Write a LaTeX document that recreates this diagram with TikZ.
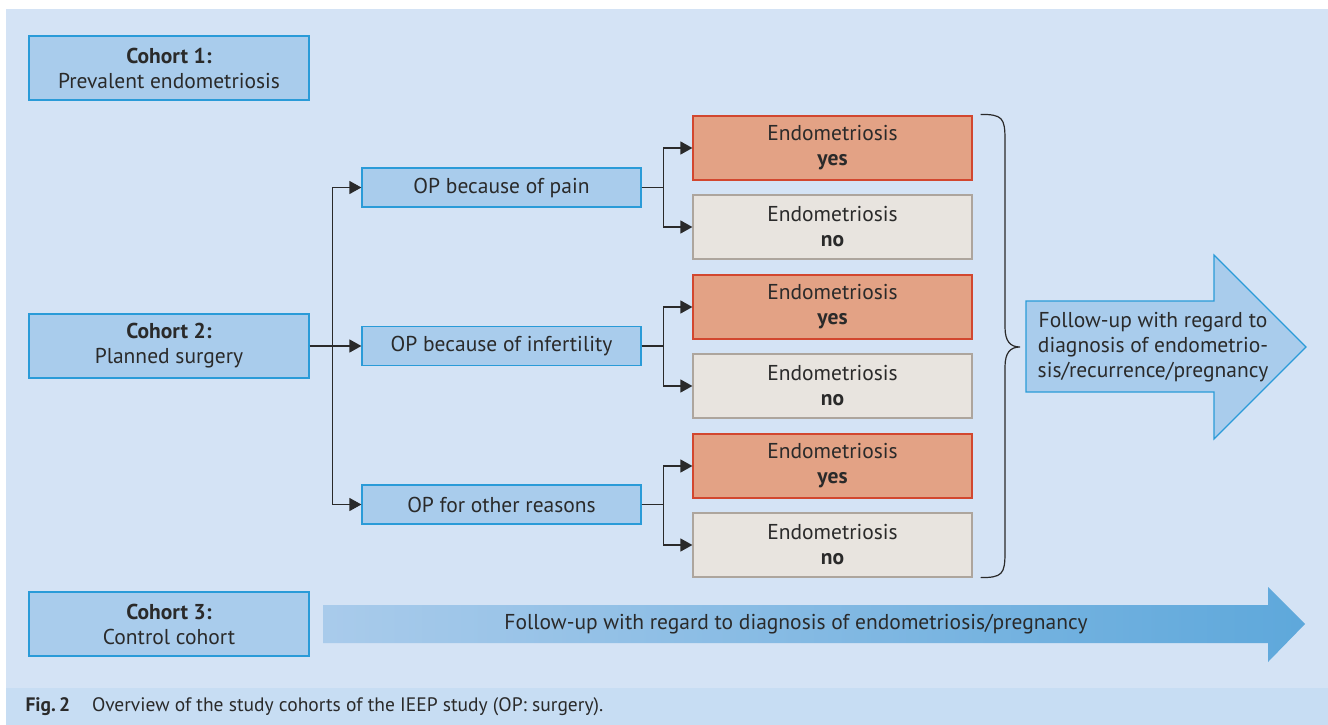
\documentclass[tikz,border=0pt]{standalone}
\usepackage{fontspec}
\setmainfont{PT Sans}
\usepackage{xcolor}
\usetikzlibrary{positioning,calc,arrows.meta}

\definecolor{panelblue}{HTML}{D4E3F5}
\definecolor{captionblue}{HTML}{C7DDF3}
\definecolor{boxblue}{HTML}{A9CCEC}
\definecolor{edgeblue}{HTML}{2A9BD8}
\definecolor{yesfill}{HTML}{E3A285}
\definecolor{yesedge}{HTML}{D2472F}
\definecolor{nofill}{HTML}{E8E4DF}
\definecolor{noedge}{HTML}{ADA59D}
\definecolor{inkgrey}{HTML}{2A2A2A}
\definecolor{arrowlight}{HTML}{A9CBEB}
\definecolor{arrowdark}{HTML}{5EA8DB}

\begin{document}
\begin{tikzpicture}[
    x=1pt, y=-1pt,
    font=\fontsize{21.5}{25}\selectfont, text=inkgrey,
    cohortbox/.style={rectangle, draw=edgeblue, fill=boxblue, line width=1.2pt,
        minimum width=280pt, minimum height=64pt, inner sep=0pt, align=center},
    opbox/.style={cohortbox, minimum width=279pt, minimum height=39pt},
    yesbox/.style={rectangle, draw=yesedge, fill=yesfill, line width=1.2pt,
        minimum width=279pt, minimum height=64pt, inner sep=0pt, align=center},
    nobox/.style={yesbox, draw=noedge, fill=nofill},
    link/.style={draw=inkgrey, line width=1.3pt, -{Triangle[length=12pt,width=13pt]}},
    bracket/.style={draw=inkgrey, line width=1.2pt}
]
    \useasboundingbox (0,0) rectangle (1328,725);
    \fill[panelblue] (6,9) rectangle (1328,688);
    \fill[captionblue] (6,688) rectangle (1328,725);

    % cohorts
    \node[cohortbox] (cohortA) at (169,68) {\textbf{Cohort 1:}\\Prevalent endometriosis};
    \node[cohortbox] (cohortB) at (169,346) {\textbf{Cohort 2:}\\Planned surgery};
    \node[cohortbox] (cohortC) at (169,624) {\textbf{Cohort 3:}\\Control cohort};

    % reasons for surgery
    \node[opbox] (opPain) at (501.5,187.5) {OP because of pain};
    \node[opbox] (opInfert) at (501.5,346) {OP because of infertility};
    \node[opbox] (opOther) at (501.5,504.5) {OP for other reasons};

    % findings
    \node[yesbox] (painYes) at (832.5,148) {Endometriosis\\\textbf{yes}};
    \node[nobox] (painNo) at (832.5,227) {Endometriosis\\\textbf{no}};
    \node[yesbox] (infertYes) at (832.5,307) {Endometriosis\\\textbf{yes}};
    \node[nobox] (infertNo) at (832.5,386) {Endometriosis\\\textbf{no}};
    \node[yesbox] (otherYes) at (832.5,466) {Endometriosis\\\textbf{yes}};
    \node[nobox] (otherNo) at (832.5,545) {Endometriosis\\\textbf{no}};

    \coordinate (split) at ($(cohortB.east)+(23,0)$);
    \draw[link] (cohortB.east) -- (opInfert.west);
    \draw[link] (split) |- (opPain.west);
    \draw[link] (split) |- (opOther.west);

    \foreach \op/\yes/\no in {opPain/painYes/painNo, opInfert/infertYes/infertNo, opOther/otherYes/otherNo} {
        \draw[link] (\op.east) -- ++(22,0) |- (\yes.west);
        \draw[link] (\op.east) -- ++(22,0) |- (\no.west);
    }

    % brace
    \coordinate (braceTop) at ($(painYes.north east)+(8,-1)$);
    \coordinate (braceBot) at ($(otherNo.south east)+(8,0)$);
    \coordinate (braceTip) at (1020,347);
    \draw[bracket] (braceTop) .. controls ++(22,0) and (1005,118) .. (1005,140)
        -- (1005,327) .. controls (1005,341) and (1010,347) .. (braceTip)
        .. controls (1010,347) and (1005,353) .. (1005,367)
        -- (1005,552) .. controls (1005,574) and ($(braceBot)+(22,0)$) .. (braceBot);

    % follow-up arrows
    \draw[fill=boxblue, draw=edgeblue, line width=1.2pt]
        (1026,301) -- (1214,301) -- (1214,255) -- (1306,347) -- (1214,439)
        -- (1214,392) -- (1026,392) -- cycle;
    \node[align=center] (followUp) at (1153,347)
        {Follow-up with regard to\\diagnosis of endometrio-\\sis/recurrence/pregnancy};

    \shade[left color=arrowlight, right color=arrowdark]
        (323,605) -- (1268,605) -- (1268,587) -- (1305,624) -- (1268,662)
        -- (1268,643) -- (323,643) -- cycle;
    \node (controlFollowUp) at (796,624)
        {Follow-up with regard to diagnosis of endometriosis/pregnancy};

    \node[anchor=west, font=\fontsize{19.5}{22}\selectfont] (caption) at (22,707)
        {\textbf{Fig.\,2}\hspace{22pt}Overview of the study cohorts of the IEEP study (OP: surgery).};
\end{tikzpicture}
\end{document}
